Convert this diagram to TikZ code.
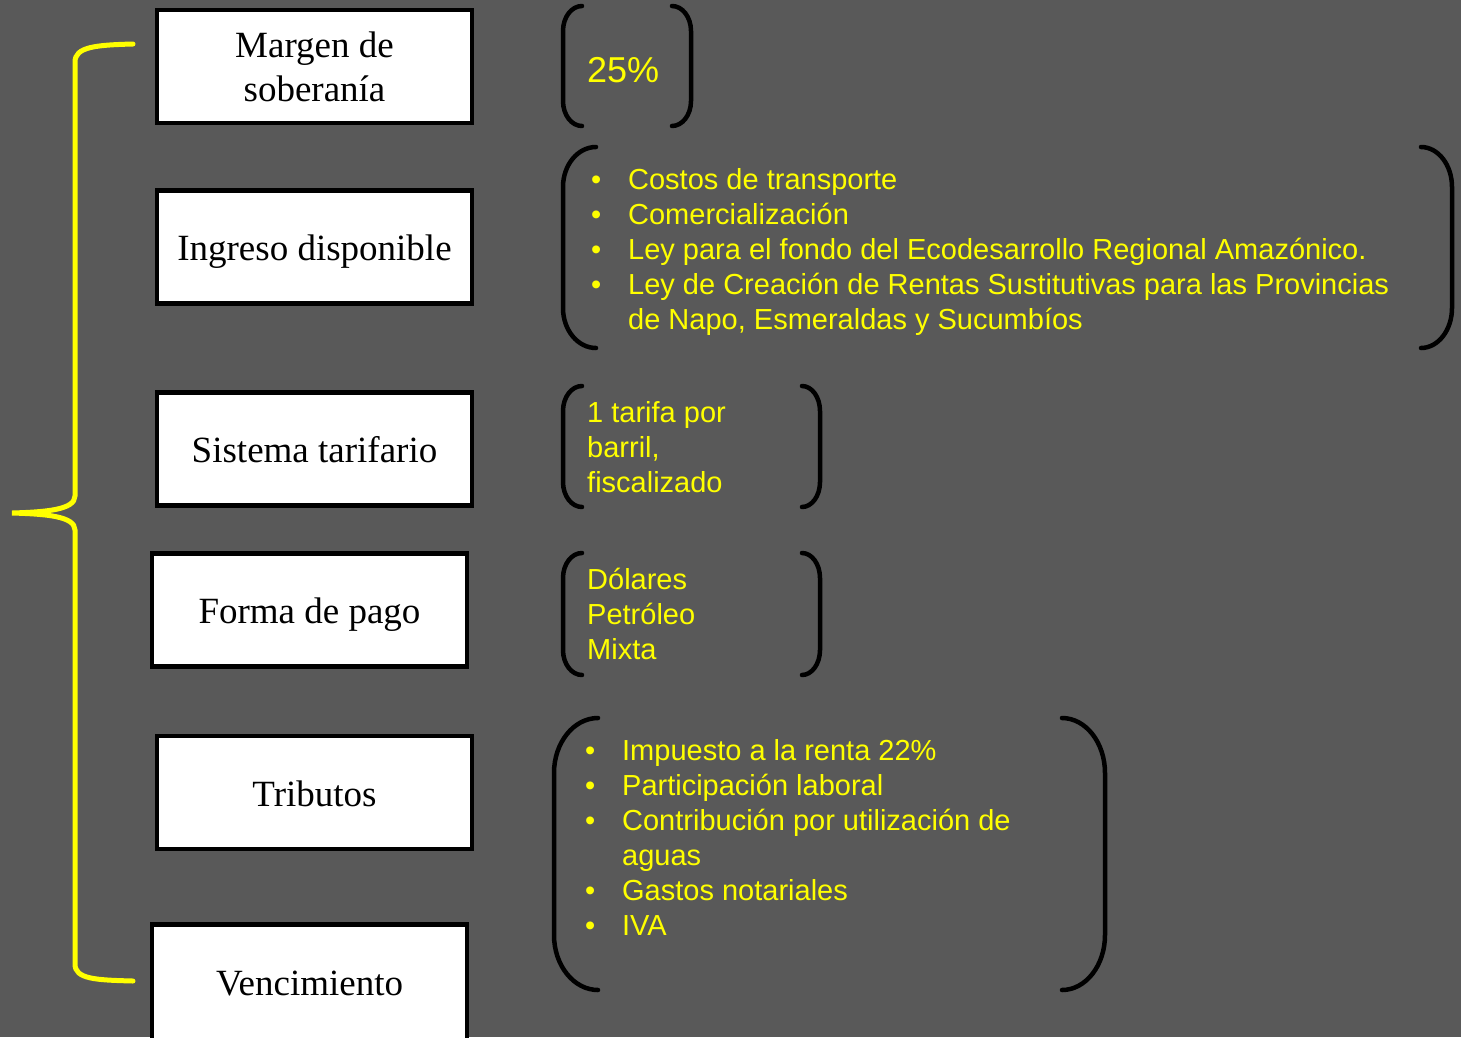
\documentclass[tikz,border=0pt]{standalone}
\usepackage{fontspec}
\setmainfont{Liberation Serif}
\newfontfamily\listfont{Liberation Sans}
\usetikzlibrary{positioning}
\definecolor{fondo}{RGB}{89,89,89}
\definecolor{amarillo}{RGB}{255,255,0}
\tikzstyle{box} = [draw, line width=4.5pt, fill=white, minimum width=315pt, minimum height=113pt, align=center, inner sep=0pt, font=\fontsize{37}{44}\selectfont]
\tikzstyle{unalinea} = [text height=27pt, text depth=0pt]
\tikzstyle{paren} = [draw, line width=4.5pt, line cap=round]
\tikzstyle{lista} = [text=amarillo, inner sep=0pt, anchor=north west, font=\listfont\fontsize{29}{35}\selectfont]
\tikzstyle{llave} = [draw=amarillo, line width=5pt, line cap=round]
\newcommand{\bul}[1]{\makebox[#1][l]{\textbullet}}
\newcommand{\parentesis}[5]{\draw[paren] (#1,#3) .. controls ({#1+0.552*(#2-#1)},#3) and (#2,{#3+0.448*#5}) .. (#2,#3+#5) -- (#2,#4-#5) .. controls (#2,{#4-0.448*#5}) and ({#1+0.552*(#2-#1)},#4) .. (#1,#4);}

\begin{document}
\begin{tikzpicture}[x=1pt,y=-1pt]
      \fill[fondo] (0,0) rectangle (1461,1037);
      \useasboundingbox (0,0) rectangle (1461,1037);
      \clip (0,0) rectangle (1461,1037);
      % boxes
      \node[box] (margen) at (314.5,66.5) {Margen de\\soberanía};
      \node[box, unalinea] (ingreso) at (314.5,247) {Ingreso disponible};
      \node[box, unalinea] (sistema) at (314.5,449) {Sistema tarifario};
      \node[box, unalinea] (forma) at (309.5,610) {Forma de pago};
      \node[box, unalinea] (tributos) at (314.5,792.5) {Tributos};
      \node[box, minimum height=125pt, text height=16pt, text depth=0pt] (venc) at (309.5,987) {Vencimiento};
      % brace
      \draw[llave] (133,44) .. controls (95,45) and (75,47) .. (75,62) -- (75,496) .. controls (75,510) and (45,512) .. (12,513) .. controls (45,514) and (75,516) .. (75,530) -- (75,964) .. controls (75,979) and (95,980) .. (133,981);
      % brackets
      \parentesis{582}{563}{6}{126}{25}
      \parentesis{672}{691}{6}{126}{25}
      \parentesis{596}{563}{147}{348}{40}
      \parentesis{1421}{1452}{147}{348}{40}
      \parentesis{582}{563}{386}{507}{25}
      \parentesis{802}{820}{386}{507}{25}
      \parentesis{582}{563}{553}{675}{25}
      \parentesis{802}{820}{553}{675}{25}
      \parentesis{598}{554}{718}{990}{55}
      \parentesis{1062}{1105}{718}{990}{55}
      % texts
      \node[lista, anchor=base west, font=\listfont\fontsize{36}{43}\selectfont] (margentxt) at (587,82) {25\%};
      \node[lista] (ingresotxt) at (591,164.5) {\begin{tabular}{@{}l@{}l@{}}
        \bul{37pt} & Costos de transporte\\
        \bul{37pt} & Comercialización\\
        \bul{37pt} & Ley para el fondo del Ecodesarrollo Regional Amazónico.\\
        \bul{37pt} & Ley de Creación de Rentas Sustitutivas para las Provincias\\
                   & de Napo, Esmeraldas y Sucumbíos
      \end{tabular}};
      \node[lista] (sistematxt) at (587,397.5) {\begin{tabular}{@{}l@{}}1 tarifa por\\barril,\\fiscalizado\end{tabular}};
      \node[lista] (formatxt) at (587,564.5) {\begin{tabular}{@{}l@{}}Dólares\\Petróleo\\Mixta\end{tabular}};
      \node[lista] (tributostxt) at (585,735.5) {\begin{tabular}{@{}l@{}l@{}}
        \bul{37pt} & Impuesto a la renta 22\%\\
        \bul{37pt} & Participación laboral\\
        \bul{37pt} & Contribución por utilización de\\
                   & aguas\\
        \bul{37pt} & Gastos notariales\\
        \bul{37pt} & IVA
      \end{tabular}};
\end{tikzpicture}
\end{document}
